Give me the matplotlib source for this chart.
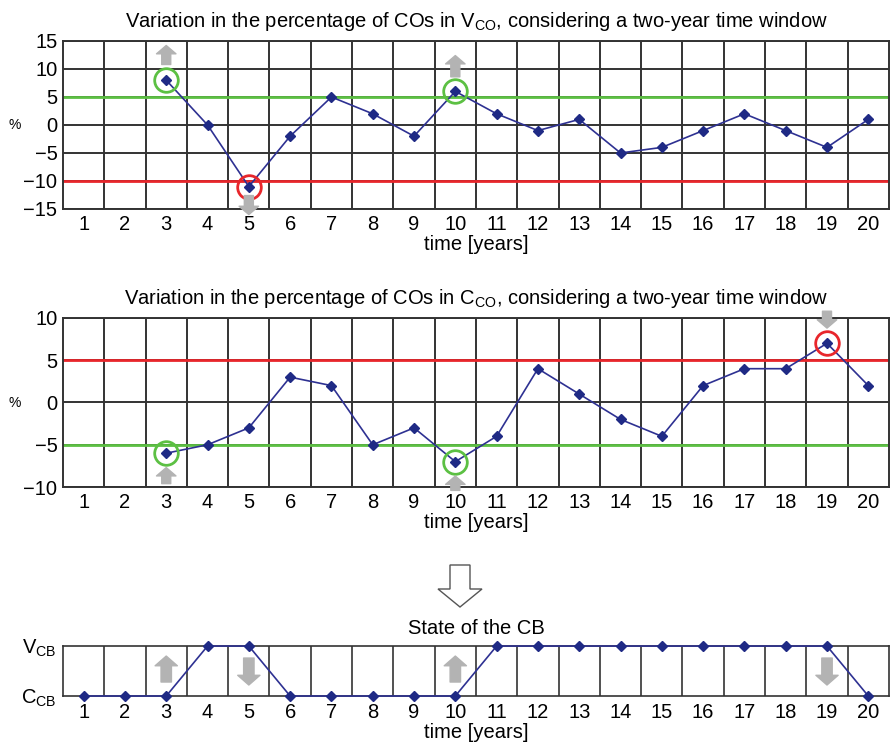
import numpy as np
import matplotlib
matplotlib.use("Agg")
import matplotlib.pyplot as plt
from matplotlib.patches import FancyArrow

plt.rcParams['font.family'] = ['Liberation Sans', 'DejaVu Sans']
plt.rcParams['mathtext.fontset'] = 'custom'
plt.rcParams['mathtext.rm'] = 'Liberation Sans'
plt.rcParams['mathtext.it'] = 'Liberation Sans'

# === data ===
years = list(range(1, 21))
v_years = list(range(3, 21))
v_pct = [8, 0, -11, -2, 5, 2, -2, 6, 2, -1, 1, -5, -4, -1, 2, -1, -4, 1]
c_years = list(range(3, 21))
c_pct = [-6, -5, -3, 3, 2, -5, -3, -7, -4, 4, 1, -2, -4, 2, 4, 4, 7, 2]
cb_state = [0, 0, 0, 1, 1, 0, 0, 0, 0, 0, 1, 1, 1, 1, 1, 1, 1, 1, 1, 0]

v_green, v_red = 5, -10
c_red, c_green = 5, -5
v_green_pts = [3, 10]
v_red_pts = [5]
c_green_pts = [3, 10]
c_red_pts = [19]

LINE = '#2e3192'
MARK = '#1f2a85'
GRID = '#333333'
GREEN = '#5cc043'
RED = '#e8262b'
ARROW = '#b3b3b3'
FS = 14.5

fig = plt.figure(figsize=(8.91, 7.48), dpi=100)
ax1 = fig.add_axes([0.0707, 0.7206, 0.927, 0.2246])
ax2 = fig.add_axes([0.0707, 0.3489, 0.927, 0.2260])
ax3 = fig.add_axes([0.0707, 0.0695, 0.927, 0.0668])


def grid_axes(ax, yticks, ylim):
    ax.set_xlim(0.5, 20.5)
    ax.set_ylim(*ylim)
    for xv in np.arange(1.5, 20.5, 1):
        ax.axvline(xv, color=GRID, lw=1.4, zorder=1)
    for yv in yticks:
        ax.axhline(yv, color=GRID, lw=1.4, zorder=1)
    ax.set_xticks(years)
    ax.set_yticks(yticks)
    ax.set_yticklabels(['\u2212%d' % -t if t < 0 else str(t) for t in yticks])
    ax.tick_params(length=0, labelsize=FS, pad=4)
    for s in ax.spines.values():
        s.set_color(GRID)
        s.set_linewidth(1.4)
    ax.set_xlabel('time [years]', fontsize=FS, labelpad=1)


def block_arrow(ax, x, y0, y1, hw=14, tw=6.5, hl=6):
    ax.annotate('', xy=(x, y1), xytext=(x, y0),
                arrowprops=dict(arrowstyle='simple,head_length=%g,head_width=%g,tail_width=%g' % (hl, hw, tw),
                                color=ARROW, mutation_scale=1, shrinkA=0, shrinkB=0),
                annotation_clip=False, zorder=5)


def circles(ax, xs, ys, pts, color):
    for p in pts:
        ax.plot(p, ys[xs.index(p)], 'o', ms=17, mfc='none', mec=color, mew=2, zorder=4, clip_on=False)


# top panel
grid_axes(ax1, [-15, -10, -5, 0, 5, 10, 15], (-15, 15))
ax1.axhline(v_green, color=GREEN, lw=2, zorder=2)
ax1.axhline(v_red, color=RED, lw=2, zorder=2)
ax1.plot(v_years, v_pct, color=LINE, lw=1.2, marker='D', ms=5, mfc=MARK, mec=MARK, zorder=3)
circles(ax1, v_years, v_pct, v_green_pts, GREEN)
circles(ax1, v_years, v_pct, v_red_pts, RED)
block_arrow(ax1, 3, 10.8, 14.2)
block_arrow(ax1, 10, 8.6, 12.4)
block_arrow(ax1, 5, -12.6, -16.0)
ax1.set_title('Variation in the percentage of COs in V$_{\\mathrm{CO}}$, considering a two-year time window',
              fontsize=FS, pad=10)
fig.text(15 / 891, 1 - 125 / 748, '%', fontsize=10, ha='center', va='center')

# middle panel
grid_axes(ax2, [-10, -5, 0, 5, 10], (-10, 10))
ax2.axhline(c_red, color=RED, lw=2, zorder=2)
ax2.axhline(c_green, color=GREEN, lw=2, zorder=2)
ax2.plot(c_years, c_pct, color=LINE, lw=1.2, marker='D', ms=5, mfc=MARK, mec=MARK, zorder=3)
circles(ax2, c_years, c_pct, c_green_pts, GREEN)
circles(ax2, c_years, c_pct, c_red_pts, RED)
block_arrow(ax2, 3, -9.6, -7.7)
block_arrow(ax2, 10, -10.4, -8.7)
block_arrow(ax2, 19, 10.8, 8.8)
ax2.set_title('Variation in the percentage of COs in C$_{\\mathrm{CO}}$, considering a two-year time window',
              fontsize=FS, pad=10)
fig.text(15 / 891, 1 - 403 / 748, '%', fontsize=10, ha='center', va='center')

# bottom panel
ax3.set_xlim(0.5, 20.5)
ax3.set_ylim(0, 1)
for xv in np.arange(1.5, 20.5, 1):
    ax3.axvline(xv, color=GRID, lw=1.2, zorder=1)
for s in ax3.spines.values():
    s.set_color(GRID)
    s.set_linewidth(1.2)
ax3.set_xticks(years)
ax3.set_yticks([0, 1])
ax3.set_yticklabels(['C$_{\\mathrm{CB}}$', 'V$_{\\mathrm{CB}}$'])
ax3.tick_params(length=0, labelsize=FS, pad=5)
ax3.plot(years, cb_state, color=LINE, lw=1.2, marker='D', ms=5, mfc=MARK, mec=MARK, zorder=3, clip_on=False)
block_arrow(ax3, 3, 0.28, 0.80, hw=16, tw=7.5, hl=7)
block_arrow(ax3, 10, 0.28, 0.80, hw=16, tw=7.5, hl=7)
block_arrow(ax3, 5, 0.76, 0.22, hw=16, tw=7.5, hl=7)
block_arrow(ax3, 19, 0.76, 0.22, hw=16, tw=7.5, hl=7)
ax3.set_title('State of the CB', fontsize=FS, pad=9)
ax3.set_xlabel('time [years]', fontsize=FS, labelpad=1)

# big hollow arrow between panels
fig.patches.append(FancyArrow(4.60, 1.83, 0, -0.42, width=0.2, head_width=0.44, head_length=0.18,
                              length_includes_head=True, fc='white', ec='#555555', lw=1,
                              transform=fig.dpi_scale_trans, figure=fig))

fig.savefig('out.png', dpi=100)
